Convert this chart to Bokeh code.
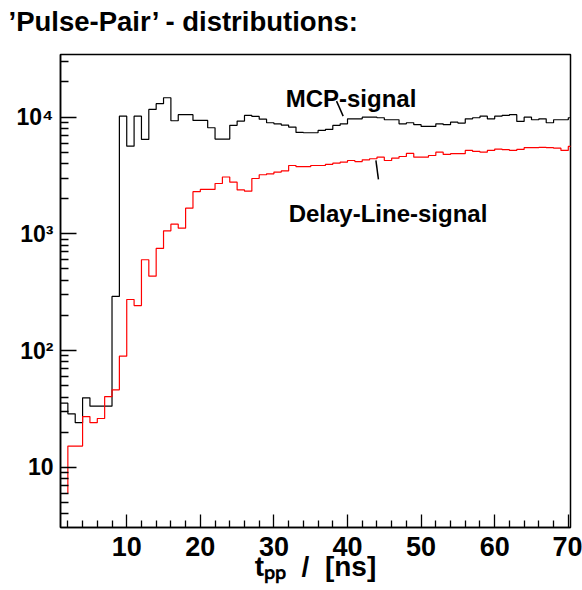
from bokeh.plotting import figure
from bokeh.models import Range1d, FixedTicker, Label, Title
from bokeh.embed import file_html
from bokeh.resources import INLINE

# ---------------- data ----------------
bin_width = 1.0
mcp_first_edge = 1
mcp_counts = [35.4, 28.7, 24.1, 39.4, 33.4, 33.4, 33.4, 291, 10200, 5640,
              10200, 6440, 11640, 13030, 14660, 9310, 10490, 10490, 9370, 9370,
              8110, 6480, 6480, 8500, 9250, 10340, 10140, 9610, 8950, 8770,
              8550, 8220, 7390, 7350, 7350, 7690, 7850, 8490, 8770, 9680,
              9680, 10000, 10000, 9880, 9500, 9500, 8770, 8950, 8610, 8320,
              8320, 8770, 8610, 9060, 8890, 9680, 9880, 10200, 9680, 10200,
              10340, 10490, 9190, 10000, 9500, 9680, 8950, 9500, 9500, 9880]

delay_first_edge = 2
delay_start_level = 6.0
delay_counts = [15.2, 15.2, 27.2, 24.1, 26.2, 40.4, 46.1, 89.5, 274,
                243, 600, 434, 750, 1062, 1211, 1119, 1660, 2300, 2400,
                2400, 2700, 3070, 2770, 2380, 2320, 2980, 3210, 3270, 3380,
                3460, 3850, 3760, 3760, 3850, 3850, 3940, 4030, 4110, 4250,
                4160, 4310, 4400, 4540, 4250, 4450, 4600, 4890, 4540, 4540,
                4690, 5010, 4790, 4860, 4860, 5180, 5080, 5010, 5180, 5320,
                5260, 5180, 5290, 5470, 5470, 5500, 5470, 5420, 5180, 5610]

x_major_ticks = [10, 20, 30, 40, 50, 60, 70]
x_minor_ticks = [v for v in range(2, 71, 2) if v % 10 != 0]
y_major_ticks = [10, 100, 1000, 10000]
y_minor_ticks = [m * 10 ** d for d in range(0, 5) for m in range(2, 10)]
y_tick_labels = {10: "10", 100: "10\u00b2", 1000: "10\u00b3", 10000: "10\u2074"}

title_text = "\u2019Pulse-Pair\u2019 - distributions:"
x_title = "t\u209a\u209a\u00a0\u00a0/\u00a0\u00a0[ns]"
mcp_label = "MCP-signal"
delay_label = "Delay-Line-signal"

FONT = "Liberation Sans"


def step_xy(first_edge, counts, width):
    xs, ys = [], []
    for i, c in enumerate(counts):
        lo = first_edge + i * width
        xs += [lo, lo + width]
        ys += [c, c]
    return xs, ys


p = figure(width=582, height=590, x_range=Range1d(1, 70.3),
           y_range=Range1d(3.05, 34400), y_axis_type="log",
           output_backend="svg", toolbar_location=None,
           min_border_left=60, min_border_right=12,
           min_border_top=54, min_border_bottom=63)

p.xgrid.visible = False
p.ygrid.visible = False
p.outline_line_color = "black"
p.outline_line_width = 1.5
p.background_fill_color = "white"
p.border_fill_color = "white"

# title: an empty spacer panel next to the frame, the real title above it
p.title.text = ""
p.add_layout(Title(text="\u00a0", text_font_size="2px", standoff=14), "above")
p.add_layout(Title(text=title_text, align="left", offset=-52, standoff=0,
                   text_font=FONT, text_font_style="bold",
                   text_font_size="27.5px", text_color="black"), "above")

# histograms
mx, my = step_xy(mcp_first_edge, mcp_counts, bin_width)
p.line(mx, my, line_color="black", line_width=1.2)

dx, dy = step_xy(delay_first_edge, delay_counts, bin_width)
dx = [delay_first_edge] + dx
dy = [delay_start_level] + dy
p.line(dx, dy, line_color="#ff0000", line_width=1.2)

# axes
p.xaxis.ticker = FixedTicker(ticks=x_major_ticks, minor_ticks=x_minor_ticks)
p.yaxis.ticker = FixedTicker(ticks=y_major_ticks, minor_ticks=y_minor_ticks)
p.yaxis.major_label_overrides = y_tick_labels

for ax, tin, mtin, stand, size in ((p.xaxis, 13, 7, 9, "27px"),
                                   (p.yaxis, 16, 8, 7, "23px")):
    ax.axis_line_color = "black"
    ax.axis_line_width = 1.5
    ax.major_tick_line_color = "black"
    ax.major_tick_line_width = 1.3
    ax.minor_tick_line_color = "black"
    ax.minor_tick_line_width = 1.3
    ax.major_tick_in = tin
    ax.major_tick_out = 0
    ax.minor_tick_in = mtin
    ax.minor_tick_out = 0
    ax.major_label_text_font = FONT
    ax.major_label_text_font_style = "bold"
    ax.major_label_text_font_size = size
    ax.major_label_text_color = "black"
    ax.major_label_standoff = stand

p.xaxis.axis_label = x_title
p.xaxis.axis_label_text_font = FONT
p.xaxis.axis_label_text_font_style = "bold"
p.xaxis.axis_label_text_font_size = "28px"
p.xaxis.axis_label_text_color = "black"
p.xaxis.axis_label_standoff = -8


def add_label(x, y, text, size):
    p.add_layout(Label(x=x, y=y, text=text, text_font=FONT,
                       text_font_style="bold", text_font_size=size,
                       text_color="black", text_align="left",
                       text_baseline="alphabetic"))


# curve annotations (inside the frame)
add_label(31.6, 14390, mcp_label, "24px")
add_label(32.0, 1486, delay_label, "24px")

# pointer lines of the annotations
p.segment(x0=[38.51], y0=[13710], x1=[39.41], y1=[10200],
          line_color="black", line_width=1.5)
p.segment(x0=[43.86], y0=[4256], x1=[44.2], y1=[2925],
          line_color="black", line_width=1.5)

open("out.html", "w").write(file_html(p, INLINE))
